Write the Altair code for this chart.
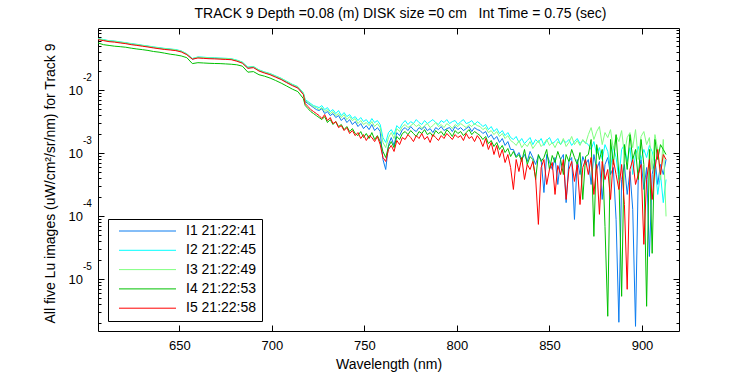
import altair as alt
import pandas as pd

FONT = "Liberation Sans"
TITLE = "TRACK 9 Depth =0.08 (m) DISK size =0 cm\u00a0\u00a0\u00a0Int Time = 0.75 (sec)"
X_TITLE = "Wavelength (nm)"
Y_TITLE = "All five Lu images (uW/cm\u00b2/sr/nm) for Track 9"

SERIES = ["I1 21:22:41", "I2 21:22:45", "I3 21:22:49", "I4 21:22:53", "I5 21:22:58"]
COLORS = ["#0a7cf0", "#00ffff", "#80ff80", "#00c000", "#ff0000"]

X_TICKS = [650, 700, 750, 800, 850, 900]
Y_DECADES = [1e-5, 1e-4, 1e-3, 1e-2]
Y_EXPONENTS = ["-5", "-4", "-3", "-2"]
Y_TICKS = [m * 10.0 ** e for e in range(-6, -1) for m in range(1, 10) if m * 10.0 ** e >= 1.9e-6]

# wavelength grid of the spectra (nm)
WAVELENGTH = [606 + 3 * k for k in range(38)] + [718 + 1.5 * k for k in range(131)]

I1 = [6.40e-2, 6.16e-2, 5.93e-2, 5.83e-2, 5.66e-2, 5.51e-2, 5.31e-2, 5.18e-2, 5.02e-2, 4.88e-2,
      4.72e-2, 4.58e-2, 4.46e-2, 4.38e-2, 4.28e-2, 4.07e-2, 3.68e-2, 3.05e-2, 3.27e-2, 3.22e-2,
      3.18e-2, 3.16e-2, 3.13e-2, 3.10e-2, 3.07e-2, 2.91e-2, 2.70e-2, 2.22e-2, 2.30e-2, 2.03e-2,
      1.89e-2, 1.78e-2, 1.63e-2, 1.49e-2, 1.33e-2, 1.20e-2, 1.10e-2, 8.7e-3,
      6.53e-3, 6.07e-3, 5.65e-3, 5.25e-3, 4.88e-3,
      4.71e-3, 5.06e-3, 4.22e-3, 4.54e-3, 3.92e-3, 4.22e-3, 3.65e-3, 3.92e-3, 3.27e-3, 3.65e-3, 3.04e-3, 3.39e-3, 2.83e-3, 3.15e-3,
      2.63e-3, 2.93e-3, 2.44e-3, 2.72e-3, 2.35e-3, 2.83e-3, 2.27e-3, 2.53e-3, 2.19e-3,
      7.90e-4, 5.49e-4, 1.36e-3, 1.76e-3, 1.32e-3, 2.11e-3, 1.89e-3, 2.35e-3,
      2.53e-3, 2.27e-3, 2.63e-3, 2.35e-3, 2.19e-3, 2.53e-3, 2.35e-3, 2.63e-3, 2.27e-3, 2.44e-3,
      2.11e-3, 2.53e-3, 2.35e-3, 2.63e-3, 2.27e-3, 2.44e-3, 2.53e-3, 2.19e-3, 2.63e-3, 2.35e-3,
      2.53e-3, 2.27e-3, 2.44e-3, 2.63e-3, 2.19e-3, 2.53e-3, 2.35e-3,
      2.27e-3, 2.04e-3, 2.19e-3, 1.76e-3, 1.96e-3, 1.64e-3, 1.83e-3, 1.47e-3, 1.70e-3, 1.32e-3, 1.52e-3, 1.14e-3,
      1.14e-3, 8.81e-4, 1.02e-3, 7.90e-4, 9.48e-4, 7.35e-4, 1.06e-3, 8.50e-4, 6.59e-4, 9.14e-4,
      7.90e-4, 2.37e-4, 9.48e-4, 7.35e-4, 5.49e-4, 8.50e-4, 3.18e-4, 7.90e-4, 9.48e-4, 1.64e-4,
      7.35e-4, 8.50e-4, 8.89e-5, 7.90e-4, 4.57e-4, 8.81e-4, 6.59e-4,
      7.90e-4, 3.18e-4, 9.48e-4, 5.49e-4, 7.35e-4, 1.84e-4, 6.59e-4, 8.50e-4, 4.57e-4, 5.90e-4,
      8.89e-5, 2.09e-6, 3.81e-4, 6.59e-4, 2.21e-4, 5.10e-4, 1.28e-4, 1.80e-6, 4.57e-4, 7.90e-4,
      2.65e-4, 5.90e-4, 2.30e-5, 4.57e-4, 7.90e-4, 3.18e-4, 6.59e-4, 4.57e-4, 7.90e-4]

I2 = [6.50e-2, 6.28e-2, 6.02e-2, 5.95e-2, 5.76e-2, 5.60e-2, 5.42e-2, 5.28e-2, 5.10e-2, 4.97e-2,
      4.80e-2, 4.68e-2, 4.55e-2, 4.45e-2, 4.36e-2, 4.15e-2, 3.74e-2, 3.15e-2, 3.33e-2, 3.30e-2,
      3.24e-2, 3.23e-2, 3.19e-2, 3.17e-2, 3.12e-2, 2.97e-2, 2.76e-2, 2.30e-2, 2.35e-2, 2.08e-2,
      1.93e-2, 1.82e-2, 1.67e-2, 1.53e-2, 1.37e-2, 1.23e-2, 1.13e-2, 9.0e-3,
      7.03e-3, 6.53e-3, 6.07e-3, 5.65e-3, 5.45e-3,
      5.25e-3, 5.65e-3, 4.88e-3, 5.25e-3, 4.54e-3, 4.88e-3, 4.22e-3, 4.71e-3, 3.92e-3, 4.38e-3, 3.78e-3, 4.07e-3, 3.52e-3, 3.78e-3,
      3.27e-3, 3.65e-3, 3.15e-3, 3.39e-3, 2.93e-3, 3.52e-3, 3.04e-3, 3.27e-3, 2.83e-3,
      1.76e-3, 1.47e-3, 2.11e-3, 2.35e-3, 1.96e-3, 2.72e-3, 2.44e-3, 2.93e-3,
      3.27e-3, 2.83e-3, 3.15e-3, 2.93e-3, 3.39e-3, 3.04e-3, 2.83e-3, 3.27e-3, 2.93e-3, 3.15e-3,
      3.39e-3, 3.04e-3, 2.83e-3, 3.27e-3, 3.04e-3, 3.39e-3, 2.93e-3, 3.15e-3, 3.27e-3, 2.83e-3,
      3.15e-3, 3.39e-3, 2.93e-3, 3.04e-3, 3.27e-3, 2.83e-3, 3.15e-3,
      2.93e-3, 2.63e-3, 2.83e-3, 2.35e-3, 2.63e-3, 2.19e-3, 2.44e-3, 2.04e-3, 2.27e-3, 1.89e-3, 2.11e-3, 1.76e-3,
      1.64e-3, 1.83e-3, 1.47e-3, 1.70e-3, 1.41e-3, 1.58e-3, 1.76e-3, 1.36e-3, 1.64e-3, 1.47e-3,
      1.70e-3, 1.32e-3, 1.58e-3, 1.76e-3, 1.41e-3, 1.52e-3, 1.70e-3, 1.36e-3, 1.58e-3, 1.47e-3,
      1.64e-3, 1.32e-3, 1.52e-3, 1.70e-3, 1.41e-3, 1.58e-3, 1.47e-3,
      1.36e-3, 1.14e-3, 1.52e-3, 9.48e-4, 1.22e-3, 7.90e-4, 1.36e-3, 1.06e-3, 5.49e-4, 1.27e-3,
      8.50e-4, 3.81e-4, 1.14e-3, 1.36e-3, 7.35e-4, 1.22e-3, 4.57e-4, 9.48e-4, 1.27e-3, 7.90e-4,
      1.14e-3, 8.50e-4, 1.32e-3, 1.06e-3, 6.59e-4, 2.21e-4, 4.57e-4, 1.64e-4, 3.81e-4]

I3 = [6.45e-2, 6.20e-2, 5.98e-2, 5.88e-2, 5.71e-2, 5.56e-2, 5.36e-2, 5.22e-2, 5.07e-2, 4.92e-2,
      4.76e-2, 4.63e-2, 4.50e-2, 4.42e-2, 4.32e-2, 4.11e-2, 3.71e-2, 3.12e-2, 3.30e-2, 3.26e-2,
      3.21e-2, 3.19e-2, 3.17e-2, 3.13e-2, 3.10e-2, 2.94e-2, 2.74e-2, 2.27e-2, 2.33e-2, 2.06e-2,
      1.91e-2, 1.80e-2, 1.65e-2, 1.52e-2, 1.36e-2, 1.22e-2, 1.12e-2, 8.9e-3,
      6.78e-3, 6.30e-3, 5.86e-3, 5.45e-3, 5.25e-3,
      4.88e-3, 5.25e-3, 4.54e-3, 4.88e-3, 4.22e-3, 4.54e-3, 3.92e-3, 4.22e-3, 3.65e-3, 4.07e-3, 3.39e-3, 3.78e-3, 3.27e-3, 3.52e-3,
      2.93e-3, 3.27e-3, 2.83e-3, 3.04e-3, 2.72e-3, 3.15e-3, 2.63e-3, 2.93e-3, 2.53e-3,
      1.47e-3, 1.22e-3, 1.76e-3, 2.11e-3, 1.70e-3, 2.44e-3, 2.19e-3, 2.63e-3,
      2.83e-3, 2.53e-3, 2.72e-3, 2.93e-3, 2.63e-3, 2.83e-3, 2.44e-3, 2.72e-3, 2.93e-3, 2.53e-3,
      2.72e-3, 3.04e-3, 2.63e-3, 2.83e-3, 2.53e-3, 2.93e-3, 2.72e-3, 2.44e-3, 2.83e-3, 2.63e-3,
      2.93e-3, 2.72e-3, 2.53e-3, 2.83e-3, 2.63e-3, 2.93e-3, 2.72e-3,
      2.63e-3, 2.35e-3, 2.53e-3, 2.11e-3, 2.27e-3, 1.96e-3, 2.19e-3, 1.83e-3, 2.04e-3, 1.70e-3, 1.89e-3, 1.58e-3,
      1.47e-3, 1.32e-3, 1.58e-3, 1.22e-3, 1.41e-3, 1.27e-3, 1.52e-3, 1.18e-3, 1.36e-3, 1.58e-3,
      1.27e-3, 1.41e-3, 1.64e-3, 1.32e-3, 1.47e-3, 1.22e-3, 1.52e-3, 1.36e-3, 1.70e-3, 1.27e-3,
      1.47e-3, 1.83e-3, 1.36e-3, 1.58e-3, 1.32e-3, 1.64e-3, 1.41e-3,
      1.96e-3, 2.53e-3, 1.64e-3, 2.19e-3, 2.63e-3, 1.36e-3, 2.11e-3, 1.76e-3, 2.35e-3, 1.14e-3,
      1.89e-3, 1.52e-3, 2.27e-3, 9.48e-4, 1.76e-3, 2.11e-3, 1.22e-3, 2.35e-3, 7.90e-4, 1.83e-3,
      2.19e-3, 1.36e-3, 1.76e-3, 5.49e-4, 1.96e-3, 1.14e-3, 3.81e-4, 1.64e-3, 9.92e-5]

I4 = [5.54e-2, 5.20e-2, 5.06e-2, 4.92e-2, 4.84e-2, 4.74e-2, 4.58e-2, 4.45e-2, 4.34e-2, 4.22e-2,
      4.06e-2, 3.96e-2, 3.82e-2, 3.68e-2, 3.58e-2, 3.45e-2, 3.24e-2, 2.61e-2, 2.70e-2, 2.67e-2,
      2.64e-2, 2.62e-2, 2.61e-2, 2.58e-2, 2.55e-2, 2.50e-2, 2.38e-2, 1.91e-2, 1.95e-2, 1.74e-2,
      1.65e-2, 1.54e-2, 1.41e-2, 1.28e-2, 1.15e-2, 1.03e-2, 9.4e-3, 7.28e-3,
      5.65e-3, 5.06e-3, 4.54e-3, 4.22e-3, 3.92e-3,
      3.65e-3, 3.39e-3, 3.78e-3, 3.04e-3, 3.39e-3, 2.83e-3, 3.15e-3, 2.63e-3, 2.83e-3, 2.35e-3, 2.63e-3, 2.19e-3, 2.44e-3, 2.04e-3,
      1.89e-3, 2.19e-3, 1.76e-3, 2.04e-3, 1.70e-3, 2.11e-3, 1.64e-3, 1.89e-3, 1.52e-3,
      1.06e-3, 8.50e-4, 1.27e-3, 1.52e-3, 1.22e-3, 1.83e-3, 1.64e-3, 2.04e-3,
      2.19e-3, 1.96e-3, 2.27e-3, 2.04e-3, 1.83e-3, 2.19e-3, 2.04e-3, 2.35e-3, 1.96e-3, 2.11e-3,
      1.83e-3, 2.27e-3, 2.04e-3, 2.19e-3, 1.89e-3, 2.35e-3, 2.11e-3, 1.83e-3, 2.27e-3, 2.04e-3,
      2.19e-3, 1.89e-3, 2.11e-3, 2.35e-3, 1.96e-3, 2.19e-3, 2.04e-3,
      1.89e-3, 1.64e-3, 1.83e-3, 1.41e-3, 1.58e-3, 1.27e-3, 1.47e-3, 1.14e-3, 1.32e-3, 1.02e-3, 1.18e-3, 8.81e-4,
      1.06e-3, 8.50e-4, 9.48e-4, 7.35e-4, 1.14e-3, 6.59e-4, 8.81e-4, 7.90e-4, 3.81e-4, 9.48e-4,
      7.35e-4, 8.50e-4, 1.14e-3, 5.49e-4, 9.14e-4, 7.08e-4, 1.06e-3, 7.90e-4, 4.57e-4, 9.48e-4,
      7.35e-4, 1.14e-3, 8.50e-4, 6.59e-4, 1.02e-3, 1.84e-4, 8.81e-4,
      9.48e-4, 1.64e-3, 4.79e-5, 1.36e-3, 7.90e-4, 1.14e-3, 6.88e-5, 2.60e-6, 1.64e-3, 6.59e-4,
      1.96e-3, 4.57e-4, 5.38e-6, 1.36e-3, 5.49e-4, 1.96e-3, 7.90e-4, 1.14e-3, 3.81e-4, 1.64e-3,
      6.59e-4, 3.74e-6, 1.14e-3, 2.58e-5, 1.64e-3, 7.90e-4, 1.36e-3, 1.14e-3, 9.48e-4]

I5 = [6.25e-2, 6.03e-2, 5.81e-2, 5.71e-2, 5.54e-2, 5.40e-2, 5.20e-2, 5.07e-2, 4.92e-2, 4.78e-2,
      4.62e-2, 4.49e-2, 4.37e-2, 4.29e-2, 4.19e-2, 3.99e-2, 3.61e-2, 3.07e-2, 3.20e-2, 3.16e-2,
      3.12e-2, 3.10e-2, 3.07e-2, 3.04e-2, 3.01e-2, 2.85e-2, 2.65e-2, 2.20e-2, 2.25e-2, 1.99e-2,
      1.85e-2, 1.74e-2, 1.59e-2, 1.46e-2, 1.30e-2, 1.17e-2, 1.07e-2, 8.43e-3,
      6.07e-3, 5.45e-3, 4.88e-3, 4.54e-3, 4.22e-3,
      3.92e-3, 3.52e-3, 4.07e-3, 3.27e-3, 3.65e-3, 2.93e-3, 3.15e-3, 2.53e-3, 2.72e-3, 2.27e-3, 2.53e-3, 2.04e-3, 2.27e-3, 1.89e-3,
      2.11e-3, 1.70e-3, 1.96e-3, 1.58e-3, 1.89e-3, 1.76e-3, 1.52e-3, 1.83e-3, 1.36e-3,
      8.50e-4, 7.35e-4, 1.14e-3, 1.32e-3, 1.06e-3, 1.58e-3, 1.36e-3, 1.76e-3,
      1.64e-3, 1.96e-3, 1.76e-3, 1.52e-3, 1.89e-3, 1.70e-3, 2.04e-3, 1.64e-3, 1.83e-3, 1.47e-3,
      1.96e-3, 1.76e-3, 1.58e-3, 1.89e-3, 1.70e-3, 2.04e-3, 1.83e-3, 1.64e-3, 1.96e-3, 1.76e-3,
      1.89e-3, 1.58e-3, 2.04e-3, 1.70e-3, 1.83e-3, 1.52e-3, 1.89e-3,
      1.64e-3, 1.27e-3, 1.70e-3, 1.14e-3, 1.47e-3, 9.48e-4, 1.32e-3, 8.50e-4, 1.14e-3, 7.08e-4, 9.48e-4, 5.90e-4,
      2.65e-4, 7.90e-4, 5.10e-4, 8.50e-4, 3.81e-4, 6.59e-4, 5.49e-4, 7.35e-4, 4.10e-4, 7.41e-5,
      5.90e-4, 7.90e-4, 3.18e-4, 5.49e-4, 7.08e-4, 2.21e-4, 6.35e-4, 4.57e-4, 7.90e-4, 1.84e-4,
      5.49e-4, 7.35e-4, 3.55e-4, 6.59e-4, 1.53e-4, 5.90e-4, 7.90e-4,
      4.57e-4, 8.50e-4, 2.21e-4, 6.59e-4, 1.07e-4, 7.35e-4, 3.81e-4, 5.49e-4, 1.84e-4, 7.90e-4,
      4.57e-4, 2.65e-4, 6.59e-4, 1.53e-4, 6.95e-6, 5.49e-4, 7.90e-4, 3.18e-4, 4.57e-4, 6.59e-4,
      3.58e-5, 3.81e-4, 7.90e-4, 1.84e-4, 5.49e-4, 1.14e-3, 4.57e-4, 9.48e-4, 7.90e-4]

rows = []
for name, vals in zip(SERIES, [I1, I2, I3, I4, I5]):
    for w, v in zip(WAVELENGTH, vals):
        rows.append({"wl": w, "val": v, "series": name})
df = pd.DataFrame(rows)
lbl = pd.DataFrame({"val": Y_DECADES, "base": ["10"] * len(Y_DECADES), "exp": Y_EXPONENTS})

W, H = 581, 303
xscale = alt.Scale(domain=[606, 920], nice=False, zero=False)
yscale = alt.Scale(type="log", domain=[1.52e-6, 0.0956], nice=False)
MAJOR = "abs(log(datum.value)/LN10 - round(log(datum.value)/LN10)) < 0.001"
ytick_size = {"condition": {"test": MAJOR, "value": 6}, "value": 3}

lines = alt.Chart(df).mark_line(strokeWidth=1, strokeJoin="round").encode(
    x=alt.X("wl:Q", scale=xscale, axis=alt.Axis(
        orient="bottom", values=X_TICKS, ticks=False, tickSize=0, domain=True, domainColor="black",
        grid=False, labelFont=FONT, labelFontSize=13, labelColor="black", labelPadding=8,
        title=X_TITLE, titleFont=FONT, titleFontSize=14, titleFontWeight="normal",
        titleColor="black", titlePadding=5)),
    y=alt.Y("val:Q", scale=yscale, axis=alt.Axis(
        orient="left", labels=False, ticks=False, tickSize=0, domain=True, domainColor="black",
        grid=False, title=Y_TITLE, titleFont=FONT, titleFontSize=14, titleFontWeight="normal",
        titleColor="black", titlePadding=41, titleY=155)),
    color=alt.Color("series:N", scale=alt.Scale(domain=SERIES, range=COLORS), legend=alt.Legend(
        title=None, orient="none", legendX=10, legendY=191, direction="vertical",
        fillColor="white", strokeColor="black", padding=5,
        symbolType="M-1,0H10.4", symbolSize=100, symbolStrokeWidth=1, symbolOffset=4,
        labelFont=FONT, labelFontSize=14, labelColor="black", labelOffset=55, rowPadding=5.3)),
)

# inward ticks on the bottom and left edges
ticks_bl = alt.Chart(df).mark_line(strokeOpacity=0).encode(
    x=alt.X("wl:Q", scale=xscale, axis=alt.Axis(
        orient="top", offset=-H, values=X_TICKS, labels=False, domain=False, grid=False,
        tickSize=6, tickColor="black", title=None)),
    y=alt.Y("val:Q", scale=yscale, axis=alt.Axis(
        orient="right", offset=-W, values=Y_TICKS, labels=False, domain=False, grid=False,
        tickSize=ytick_size, tickColor="black", title=None)),
)

# inward ticks on the top and right edges, with the frame lines
ticks_tr = alt.Chart(df).mark_line(strokeOpacity=0).encode(
    x=alt.X("wl:Q", scale=xscale, axis=alt.Axis(
        orient="bottom", offset=-H, values=X_TICKS, labels=False, domain=True, domainColor="black",
        grid=False, tickSize=6, tickColor="black", title=None)),
    y=alt.Y("val:Q", scale=yscale, axis=alt.Axis(
        orient="left", offset=-W, values=Y_TICKS, labels=False, domain=True, domainColor="black",
        grid=False, tickSize=ytick_size, tickColor="black", title=None)),
)

base_lbl = alt.Chart(lbl).mark_text(align="right", baseline="middle", font=FONT, fontSize=13,
                                    color="black", dy=1).encode(
    x=alt.value(-15), y=alt.Y("val:Q", scale=yscale, axis=None), text="base:N")
exp_lbl = alt.Chart(lbl).mark_text(align="left", baseline="middle", font=FONT, fontSize=10,
                                   color="black", dy=-12).encode(
    x=alt.value(-15), y=alt.Y("val:Q", scale=yscale, axis=None), text="exp:N")

chart = alt.layer(lines, ticks_bl, ticks_tr, base_lbl, exp_lbl).resolve_axis(
    x="independent", y="independent"
).properties(
    width=W, height=H,
    autosize=alt.AutoSizeParams(type="none"),
    padding={"left": 98, "top": 28, "right": 71, "bottom": 44},
    title=alt.TitleParams(text=TITLE, font=FONT, fontSize=14, fontWeight="normal", color="black",
                          anchor="middle", frame="group", baseline="alphabetic", offset=-4, dx=12),
    background="white",
).configure_view(strokeWidth=0)

chart.save("out.html", embed_options={"renderer": "svg", "actions": False})
